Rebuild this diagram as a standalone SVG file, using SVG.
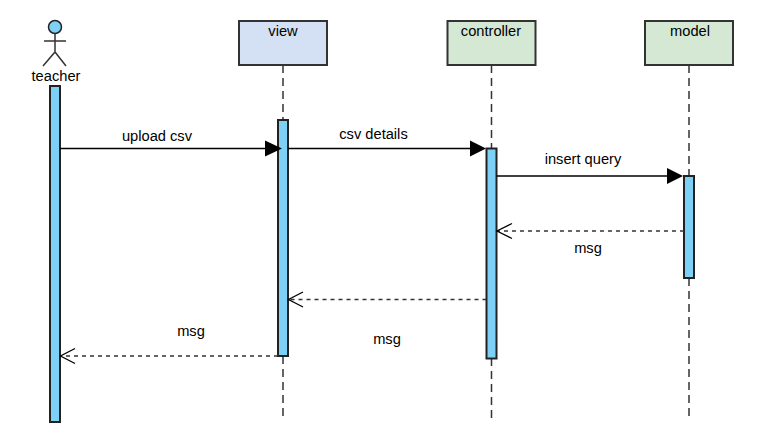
<svg xmlns="http://www.w3.org/2000/svg" width="770" height="441" viewBox="0 0 770 441">
<style>
text{font-family:"Liberation Sans",Arial,sans-serif;font-size:14.67px;fill:#000;text-anchor:middle}
.box{stroke:#333;stroke-width:2}
.act{fill:#7dd0f6;stroke:#222;stroke-width:2}
.life{stroke:#333;stroke-width:1.5;stroke-dasharray:8 5;fill:none}
.msg{stroke:#000;stroke-width:1.5;fill:none}
.ret{stroke:#333;stroke-width:1.5;stroke-dasharray:4 4;fill:none}
.open{stroke:#000;stroke-width:1.3;fill:none}
.limb{stroke:#333;stroke-width:1.5;fill:none}
</style>
<rect width="770" height="441" fill="#fff"/>
<g id="connectors">
<path class="life" d="M283 65V120M283 356V419"/>
<path class="life" d="M491.500 65V148M491.500 358V419"/>
<path class="life" d="M689 65V176M689 278V419"/>
</g>
<g id="teacher">
<circle cx="55" cy="27" r="6.500" fill="#7dd0f6" stroke="#222" stroke-width="1.500"/>
<path class="limb" d="M55 33.500V52M44 41H66M43 66L55 52L66 66"/>
<text x="56" y="81">teacher</text>
<rect class="act" x="50" y="86" width="10" height="336"/>
</g>
<g id="view">
<rect class="box" x="239" y="21" width="88" height="44" fill="#d4e1f5"/>
<text x="283" y="36">view</text>
<rect class="act" x="278" y="120" width="10" height="236"/>
</g>
<g id="controller">
<rect class="box" x="447.500" y="21" width="88" height="44" fill="#d5e8d4"/>
<text x="491" y="36">controller</text>
<rect class="act" x="486.500" y="148.500" width="10" height="210"/>
</g>
<g id="model">
<rect class="box" x="645" y="21" width="88" height="44" fill="#d5e8d4"/>
<text x="690" y="36">model</text>
<rect class="act" x="684" y="176" width="10" height="102"/>
</g>
<g id="messages">
<path class="msg" d="M60 148.500H266"/><path d="M265 140.500L282 148.500L265 156.500Z"/>
<text x="157" y="141">upload csv</text>
<path class="msg" d="M288 148.500H471"/><path d="M470 140.500L486 148.500L470 156.500Z"/>
<text x="373.500" y="139">csv details</text>
<path class="msg" d="M496.500 176H668"/><path d="M667 168L683 176L667 184Z"/>
<text x="583" y="164">insert query</text>
<path class="ret" d="M684 231H497"/><path class="open" d="M512 223.500L497 231L512 238.500"/>
<text x="588" y="253">msg</text>
<path class="ret" d="M486.500 299.500H289"/><path class="open" d="M303 292L288.500 299.500L303 307"/>
<text x="387" y="344">msg</text>
<path class="ret" d="M278 356H61"/><path class="open" d="M75 348.500L60.500 356L75 363.500"/>
<text x="191" y="336">msg</text>
</g>
</svg>
